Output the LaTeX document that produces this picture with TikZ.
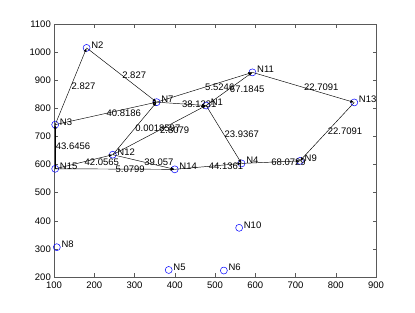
\documentclass[tikz,border=0pt]{standalone}
\usepackage{fontspec}
\setmainfont{Liberation Sans}
\usetikzlibrary{arrows.meta}
\begin{document}
\begin{tikzpicture}[
  vert/.style={circle, draw=blue, line width=0.5pt, minimum size=7pt, inner sep=0pt},
  vlab/.style={anchor=west, inner sep=0.5pt, font=\fontsize{9.5}{11}\selectfont},
  elab/.style={anchor=west, inner sep=0.5pt, font=\fontsize{9.5}{11}\selectfont},
  edge/.style={draw=black, line width=0.45pt, -{Latex[length=4pt,width=3pt]}},
  ticklab/.style={inner sep=0pt, font=\fontsize{9.5}{11}\selectfont},
]
\useasboundingbox (0,0) rectangle (415pt,313pt);
\begin{scope}[x=0.4025pt, y=0.2811pt, shift={(13.75pt,-20.22pt)}]
  % axes box and ticks
  \draw[black!65, line width=0.8pt] (100,200) rectangle (900,1100);
  \foreach \t in {100,200,...,900} {
    \draw[black!65, line width=0.5pt] (\t,200) -- ++(0,3.5pt);
    \draw[black!65, line width=0.5pt] (\t,1100) -- ++(0,-3.5pt);
    \node[ticklab, anchor=north] at ([yshift=-4.5pt]\t,200) {\t};
  }
  \foreach \t in {200,300,...,1100} {
    \draw[black!65, line width=0.5pt] (100,\t) -- ++(3.5pt,0);
    \draw[black!65, line width=0.5pt] (900,\t) -- ++(-3.5pt,0);
    \node[ticklab, anchor=east] at ([xshift=-3pt]100,\t) {\t};
  }
  % vertices
  \node[vert] (N1) at (478,810) {};
  \node[vert] (N2) at (181,1015) {};
  \node[vert] (N3) at (103,742) {};
  \node[vert] (N4) at (566,604) {};
  \node[vert] (N5) at (385,225) {};
  \node[vert] (N6) at (522,223) {};
  \node[vert] (N7) at (355,822) {};
  \node[vert] (N8) at (107,306) {};
  \node[vert] (N9) at (711,613) {};
  \node[vert] (N10) at (560,375) {};
  \node[vert] (N11) at (593,928) {};
  \node[vert] (N12) at (246,635) {};
  \node[vert] (N13) at (846,821) {};
  \node[vert] (N14) at (400,583) {};
  \node[vert] (N15) at (103,585) {};
  % vertex labels
  \foreach \n in {1,...,15} {
    \node[vlab] (L\n) at ([shift={(10,10)}]N\n.center) {N\n};
  }
  % edges
  \foreach \a/\b/\w in {
    N3/N2/2.827, N2/N7/2.827, N3/N7/40.8186, N15/N3/43.6456,
    N12/N7/0.0018597, N12/N1/2.8079, N7/N1/38.1231, N7/N11/5.5246,
    N1/N11/67.1845, N11/N13/22.7091, N13/N9/22.7091, N1/N4/23.9367,
    N4/N9/68.0729, N14/N4/44.1361, N15/N14/5.0799, N12/N14/39.057,
    N15/N12/42.0565} {
    \draw[edge] (\a.center) -- (\b.center);
    \path (\a.center) -- (\b.center) node[elab, pos=0.5] {\w};
  }
\end{scope}
\end{tikzpicture}
\end{document}
